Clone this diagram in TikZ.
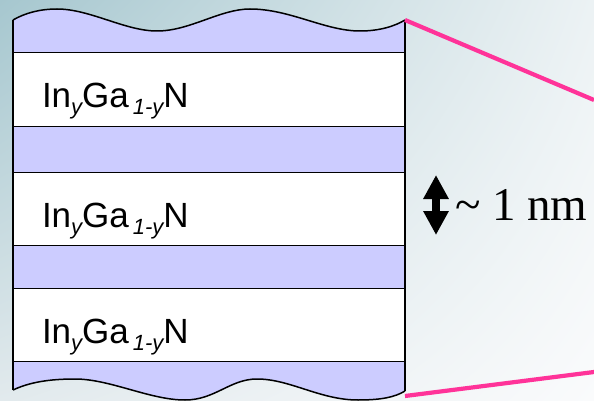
\documentclass[tikz,border=0pt]{standalone}
\usepackage{fontspec}
\setmainfont{Liberation Serif}
\newfontfamily\arialf{Liberation Sans}
\usetikzlibrary{arrows.meta,shadings}
\definecolor{layerblue}{RGB}{204,204,255}
\definecolor{zoompink}{RGB}{255,51,153}
\definecolor{bgTL}{RGB}{166,199,207}
\definecolor{bgTR}{RGB}{236,242,244}
\definecolor{bgBL}{RGB}{226,234,237}
\definecolor{bgBR}{RGB}{250,251,252}
\newcommand{\ingan}{{\arialf\fontsize{35}{40}\selectfont In\raisebox{-7pt}{\fontsize{22}{24}\selectfont\itshape y}Ga\hspace{4pt}\raisebox{-7pt}{\fontsize{22}{24}\selectfont\itshape 1-y}N}}
\tikzset{
  layerline/.style={draw=black, line width=1pt},
  sideline/.style={draw=black, line width=1.6pt},
  waveline/.style={draw=black, line width=1.5pt},
  zoomline/.style={draw=zoompink, line width=4.2pt},
  label/.style={anchor=base west, inner sep=0pt, outer sep=0pt},
}
\begin{document}
\begin{tikzpicture}[x=1pt, y=-1pt]
\useasboundingbox (0,0) rectangle (594,401);
\shade[upper left=bgTL, upper right=bgTR, lower left=bgBL, lower right=bgBR] (0,0) rectangle (594,401);
\coordinate (tl) at (13,20);
\coordinate (tr) at (405,20);
\coordinate (bl) at (13,390);
\coordinate (br) at (405,391);
% blue stack body
\fill[layerblue] (tl) .. controls (25,13) and (40,9) .. (57,9)
  .. controls (90,9) and (125,31) .. (157,31)
  .. controls (190,31) and (220,9) .. (250,9)
  .. controls (290,9) and (325,31) .. (360,31)
  .. controls (380,31) and (395,26) .. (tr)
  -- (br) .. controls (395,397) and (382,400) .. (358,400)
  .. controls (320,400) and (290,379) .. (257,379)
  .. controls (230,379) and (215,400) .. (185,400)
  .. controls (150,400) and (110,379) .. (75,379)
  .. controls (50,379) and (30,382) .. (bl) -- cycle;
% white layers
\fill[white] (13,53) rectangle (405,127);
\fill[white] (13,172) rectangle (405,245);
\fill[white] (13,288) rectangle (405,361);
\foreach \y in {53,127,172,245,288,361} \draw[layerline] (13,\y) -- (405,\y);
% wavy edges
\draw[waveline] (tl) .. controls (25,13) and (40,9) .. (57,9)
  .. controls (90,9) and (125,31) .. (157,31)
  .. controls (190,31) and (220,9) .. (250,9)
  .. controls (290,9) and (325,31) .. (360,31)
  .. controls (380,31) and (395,26) .. (tr);
\draw[waveline] (br) .. controls (395,397) and (382,400) .. (358,400)
  .. controls (320,400) and (290,379) .. (257,379)
  .. controls (230,379) and (215,400) .. (185,400)
  .. controls (150,400) and (110,379) .. (75,379)
  .. controls (50,379) and (30,382) .. (bl);
\draw[sideline] (tl) -- (bl);
\draw[sideline] (tr) -- (br);
% labels
\node[label] (l1) at (42,108) {\ingan};
\node[label] (l2) at (42,227) {\ingan};
\node[label] (l3) at (42,343) {\ingan};
% zoom lines
\coordinate (zt) at (594,100);
\coordinate (zbs) at (405,396);
\coordinate (zb) at (594,372);
\draw[zoomline] (tr) -- (zt);
\draw[zoomline] (zbs) -- (zb);
% arrow
\coordinate (at) at (436,175);
\coordinate (ab) at (436,235);
\draw[line width=7.5pt, {Triangle[width=24pt,length=24pt]}-{Triangle[width=24pt,length=24pt]}] (at) -- (ab);
\node[label] (nm) at (455,220) {\fontsize{47}{52}\selectfont \textasciitilde\ 1 nm};
\end{tikzpicture}
\end{document}
